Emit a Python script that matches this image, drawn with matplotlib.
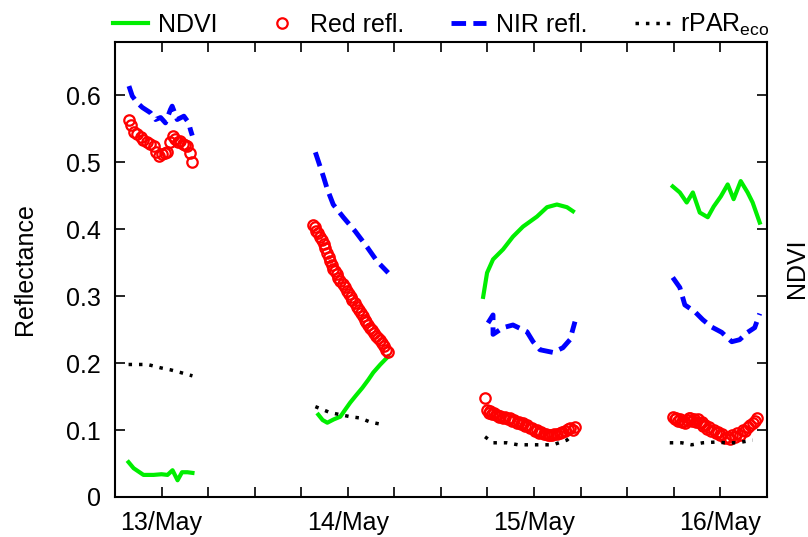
import numpy as np
import matplotlib
matplotlib.use('Agg')
import matplotlib.pyplot as plt

plt.rcParams['font.family'] = ['Liberation Sans', 'DejaVu Sans']
plt.rcParams['font.size'] = 18

## DATA  (x in days after the 13/May tick, y in reflectance / NDVI units)

day_labels = ['13/May', '14/May', '15/May', '16/May']
day_ticks = [0, 1, 2, 3]
y_ticks = [0, 0.1, 0.2, 0.3, 0.4, 0.5, 0.6]
y_ticklabels = ['0', '0.1', '0.2', '0.3', '0.4', '0.5', '0.6']

# NDVI, one list per day
ndvi_t = [
    [-0.177, -0.150, -0.097, -0.043, 0.000, 0.032, 0.059, 0.086, 0.110, 0.139, 0.166],
    [0.842, 0.865, 0.890, 0.925, 0.960, 0.985, 1.013, 1.045, 1.078, 1.110, 1.137, 1.175, 1.217],
    [1.727, 1.748, 1.780, 1.834, 1.887, 1.941, 2.016, 2.070, 2.123, 2.177, 2.209],
    [2.745, 2.783, 2.820, 2.853, 2.890, 2.933, 2.965, 3.003, 3.040, 3.072, 3.110, 3.147, 3.174, 3.212],
]
ndvi_v = [
    [0.052, 0.043, 0.033, 0.033, 0.034, 0.033, 0.040, 0.025, 0.037, 0.037, 0.036],
    [0.123, 0.115, 0.111, 0.116, 0.120, 0.130, 0.141, 0.152, 0.163, 0.175, 0.186, 0.198, 0.210],
    [0.299, 0.335, 0.355, 0.370, 0.389, 0.404, 0.419, 0.433, 0.437, 0.433, 0.427],
    [0.464, 0.455, 0.440, 0.455, 0.425, 0.418, 0.434, 0.449, 0.467, 0.445, 0.472, 0.455, 0.440, 0.410],
]

# Red reflectance
red_t = [
    [-0.177, -0.165, -0.150, -0.130, -0.110, -0.097, -0.080, -0.060, -0.043, -0.030, -0.016, 0.000,
     0.016, 0.032, 0.045, 0.059, 0.072, 0.086, 0.100, 0.115, 0.128, 0.139, 0.152, 0.166],
    [0.815, 0.822, 0.830, 0.840, 0.853, 0.862, 0.870, 0.880, 0.890, 0.898, 0.905, 0.913, 0.922,
     0.930, 0.940, 0.950, 0.960, 0.973, 0.987, 0.996, 1.005, 1.015, 1.025, 1.038, 1.051, 1.060,
     1.070, 1.080, 1.090, 1.100, 1.110, 1.120, 1.130, 1.140, 1.150, 1.162, 1.174, 1.185, 1.195,
     1.206, 1.217],
    [1.737, 1.748, 1.758, 1.765, 1.775, 1.785, 1.795, 1.802, 1.812, 1.820, 1.833, 1.845, 1.858,
     1.871, 1.883, 1.895, 1.908, 1.920, 1.930, 1.941, 1.953, 1.965, 1.978, 1.990, 2.003, 2.016,
     2.028, 2.040, 2.053, 2.065, 2.076, 2.086, 2.098, 2.110, 2.125, 2.139, 2.152, 2.165, 2.180,
     2.193, 2.207, 2.220],
    [2.745, 2.755, 2.765, 2.775, 2.785, 2.795, 2.805, 2.812, 2.820, 2.830, 2.840, 2.850, 2.860,
     2.870, 2.880, 2.890, 2.900, 2.910, 2.920, 2.930, 2.940, 2.952, 2.965, 2.978, 2.990, 3.000,
     3.010, 3.025, 3.040, 3.052, 3.065, 3.078, 3.090, 3.105, 3.120, 3.135, 3.150, 3.162, 3.175,
     3.188, 3.200],
]
red_v = [
    [0.564, 0.556, 0.546, 0.542, 0.538, 0.534, 0.530, 0.527, 0.524, 0.516, 0.509, 0.512,
     0.514, 0.516, 0.530, 0.539, 0.535, 0.530, 0.532, 0.528, 0.526, 0.524, 0.514, 0.501],
    [0.407, 0.403, 0.398, 0.394, 0.389, 0.384, 0.378, 0.372, 0.365, 0.358, 0.352, 0.346, 0.340,
     0.337, 0.333, 0.327, 0.322, 0.318, 0.314, 0.308, 0.303, 0.299, 0.295, 0.290, 0.284, 0.280,
     0.275, 0.270, 0.265, 0.261, 0.257, 0.253, 0.249, 0.245, 0.241, 0.238, 0.235, 0.230, 0.225,
     0.220, 0.216],
    [0.148, 0.130, 0.126, 0.128, 0.124, 0.125, 0.122, 0.123, 0.120, 0.121, 0.118, 0.119, 0.116,
     0.118, 0.114, 0.115, 0.111, 0.112, 0.109, 0.111, 0.106, 0.107, 0.103, 0.103, 0.099, 0.100,
     0.096, 0.097, 0.094, 0.094, 0.092, 0.093, 0.092, 0.094, 0.094, 0.096, 0.097, 0.099, 0.101,
     0.103, 0.100, 0.105],
    [0.120, 0.116, 0.118, 0.114, 0.116, 0.112, 0.114, 0.111, 0.115, 0.118, 0.118, 0.114, 0.117,
     0.112, 0.116, 0.110, 0.112, 0.106, 0.108, 0.102, 0.104, 0.098, 0.100, 0.095, 0.097, 0.092,
     0.094, 0.088, 0.090, 0.086, 0.093, 0.089, 0.096, 0.093, 0.100, 0.098, 0.104, 0.108, 0.110,
     0.114, 0.118],
]

# NIR reflectance
nir_t = [
    [-0.175, -0.157, -0.130, -0.103, -0.059, -0.032, -0.005, 0.021, 0.048, 0.057, 0.084, 0.120, 0.146, 0.155, 0.165],
    [0.826, 0.869, 0.890, 0.922, 0.976, 1.040, 1.105, 1.158, 1.217],
    [1.753, 1.780, 1.780, 1.834, 1.887, 1.962, 1.995, 2.032, 2.102, 2.155, 2.193, 2.220],
    [2.745, 2.783, 2.810, 2.863, 2.906, 2.954, 3.008, 3.062, 3.104, 3.147, 3.185, 3.212],
]
nir_v = [
    [0.614, 0.599, 0.589, 0.582, 0.574, 0.564, 0.567, 0.559, 0.579, 0.584, 0.564, 0.569, 0.559, 0.549, 0.540],
    [0.515, 0.479, 0.460, 0.437, 0.418, 0.397, 0.373, 0.352, 0.335],
    [0.260, 0.272, 0.243, 0.253, 0.257, 0.247, 0.232, 0.220, 0.216, 0.223, 0.235, 0.262],
    [0.328, 0.313, 0.287, 0.277, 0.265, 0.254, 0.246, 0.232, 0.235, 0.246, 0.253, 0.274],
]

# rPAR eco
rpar_t = [
    [-0.177, -0.075, -0.005, 0.048, 0.102, 0.166],
    [0.826, 0.906, 0.960, 1.013, 1.067, 1.120, 1.190],
    [1.737, 1.780, 1.855, 1.914, 1.978, 2.043, 2.102, 2.177, 2.209],
    [2.729, 2.793, 2.847, 2.906, 2.970, 3.035, 3.094, 3.174],
]
rpar_v = [
    [0.198, 0.198, 0.193, 0.190, 0.186, 0.181],
    [0.135, 0.126, 0.123, 0.120, 0.118, 0.112, 0.108],
    [0.090, 0.081, 0.081, 0.078, 0.078, 0.078, 0.078, 0.085, 0.093],
    [0.081, 0.081, 0.078, 0.081, 0.082, 0.081, 0.081, 0.085],
]

## PLOT

fig = plt.figure(figsize=(8.08, 5.37), dpi=100)
ax = fig.add_axes([0.1423, 0.0745, 0.8067, 0.8475])

for i in range(4):
    ax.plot(ndvi_t[i], ndvi_v[i], color='#00ee00', lw=3, label='NDVI' if i == 0 else None)
    ax.plot(red_t[i], red_v[i], linestyle='none', marker='o', markersize=7.5,
            markerfacecolor='none', markeredgecolor='#ff0000', markeredgewidth=1.6,
            label='Red refl.' if i == 0 else None)
    ax.plot(nir_t[i], nir_v[i], color='#0000ff', lw=3.5, linestyle=(0, (3, 1.5)),
            label='NIR refl.' if i == 0 else None)
    ax.plot(rpar_t[i], rpar_v[i], color='black', lw=2.5, linestyle=(0, (1, 2)),
            label='rPAR$_{\\mathregular{eco}}$' if i == 0 else None)

ax.set_xlim(-0.25, 3.25)
ax.set_ylim(0, 0.68)

# ticks every 6 h, labels only at the day ticks
quarter_ticks = np.arange(-0.25, 3.26, 0.25)
ax.set_xticks(quarter_ticks)
ax.set_xticklabels([day_labels[day_ticks.index(int(t))] if t == int(t) else '' for t in quarter_ticks])
ax.set_yticks(y_ticks)
ax.set_yticklabels(y_ticklabels)
ax.tick_params(direction='in', length=7, width=1.2, top=True, right=True)
ax.tick_params(axis='x', pad=10)
ax.tick_params(axis='y', pad=10)
for s in ax.spines.values():
    s.set_linewidth(1.5)

ax.set_ylabel('Reflectance')
ax.yaxis.set_label_coords(-0.12, 0.5)
fig.text(0.986, 0.5, 'NDVI', rotation=90, va='center', ha='center')

fig.legend(loc='center', bbox_to_anchor=(0.546, 1 - 25 / 537), ncol=4, frameon=False,
           handlelength=1.4, handletextpad=0.4, columnspacing=1.9, borderpad=0)

fig.savefig('out.png', dpi=100)
